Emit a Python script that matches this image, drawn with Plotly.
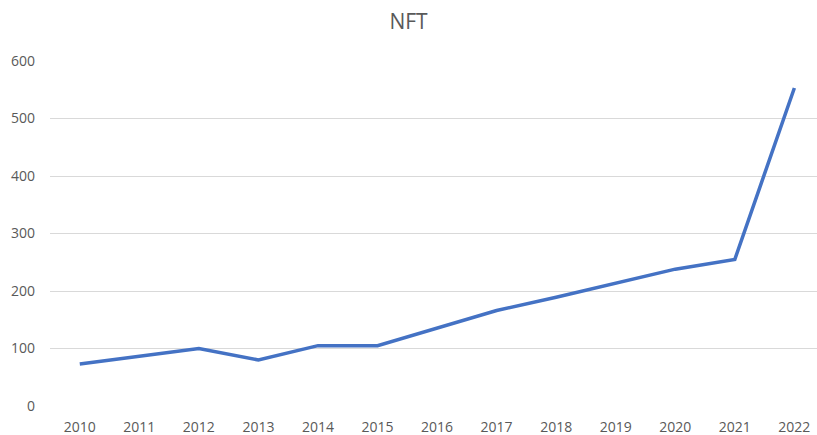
import plotly.graph_objects as go

years = ["2010", "2011", "2012", "2013", "2014", "2015", "2016",
         "2017", "2018", "2019", "2020", "2021", "2022"]
values = [73, 86, 100, 80, 105, 105, 136, 166, 189, 213, 238, 255, 553]
y_ticks = [0, 100, 200, 300, 400, 500, 600]

fig = go.Figure()
fig.add_trace(go.Scatter(
    x=years, y=values, mode="lines",
    line=dict(color="#4472C4", width=3.5),
    hoverinfo="x+y",
))

font_family = "Open Sans, Liberation Sans, sans-serif"
fig.update_layout(
    width=817, height=435,
    margin=dict(l=50, r=0, t=61, b=29, autoexpand=False),
    paper_bgcolor="white", plot_bgcolor="white",
    showlegend=False,
    title=dict(text="NFT", x=0.5, xanchor="center", y=0.95, yanchor="middle",
               font=dict(family=font_family, size=21, color="#595959")),
    xaxis=dict(type="category", range=[-0.5, 12.38], showgrid=False,
               showline=False, zeroline=False, ticks="", automargin=False,
               ticklabelstandoff=11,
               tickfont=dict(family=font_family, size=14, color="#595959")),
    yaxis=dict(range=[0, 600], tickvals=y_ticks, showgrid=True,
               gridcolor="#D9D9D9", gridwidth=1, zeroline=False,
               showline=False, ticks="", ticklabelstandoff=14, automargin=False,
               tickfont=dict(family=font_family, size=14, color="#595959")),
)

fig.write_html(
    "out.html",
    config={"displayModeBar": False},
    post_script="document.body.style.margin='0';document.body.style.padding='0';document.body.style.overflow='hidden';",
)
